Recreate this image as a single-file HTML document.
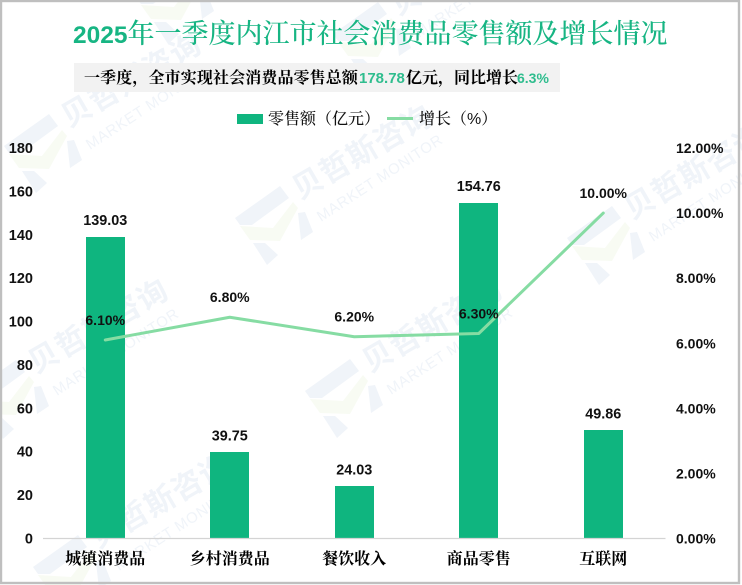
<!DOCTYPE html>
<html lang="zh">
<head>
<meta charset="utf-8">
<title>2025年一季度内江市社会消费品零售额及增长情况</title>
<style>
html,body{margin:0;padding:0;background:#fff;}
body{width:742px;height:585px;overflow:hidden;position:relative;}
svg{position:absolute;left:0;top:0;display:block;}
text{font-family:"Liberation Sans","Noto Sans CJK SC",sans-serif;}
.cjk{font-family:"Liberation Sans","Noto Serif CJK SC",serif;}
</style>
</head>
<body>
<svg id="chart" width="742" height="585" viewBox="0 0 742 585" xmlns="http://www.w3.org/2000/svg">
  <defs>
    <g id="wm-unit">
      <polygon fill="#f0f4f9" points="-39,-8 6,-40 15,-28 -22,-1 -34,-1"/>
      <polygon fill="#f8fbf3" points="-34,0 -1,2 19,-24 24,-18 6,15 -24,14"/>
      <polygon fill="#f0f4f9" points="24,-13 31,-14 39,6 27,14"/>
      <polygon fill="#f0f4f9" points="-21,17 -9,17 4,29 -7,39"/>
      <text transform="translate(26,-26) rotate(-30)" x="0" y="0" font-size="30" font-weight="700" fill="#f0f4f9" textLength="155">贝哲斯咨询</text>
      <text transform="translate(47,-4) rotate(-33)" x="0" y="0" font-size="15" fill="#f0f4f9" textLength="146">MARKET MONITOR</text>
    </g>
  </defs>
  <rect x="0" y="0" width="742" height="585" fill="#ffffff"/>
  <g id="watermarks">
    <use href="#wm-unit" x="43" y="154"/>
    <use href="#wm-unit" x="274" y="226"/>
    <use href="#wm-unit" x="606" y="246"/>
    <use href="#wm-unit" x="344" y="399"/>
    <use href="#wm-unit" x="10" y="400"/>
    <use href="#wm-unit" x="72" y="575"/>
    <use href="#wm-unit" x="372" y="42"/>
    <use href="#wm-unit" x="175" y="5"/>
  </g>
  <rect x="1" y="1" width="738" height="582" fill="none" stroke="#bfbfbf" stroke-width="2.4"/>
  <text x="73" y="43" class="cjk" font-size="27" fill="#17b583"><tspan font-weight="700" font-size="24.5">2025</tspan><tspan font-weight="500">年一季度内江市社会消费品零售额及增长情况</tspan></text>
  <rect x="74" y="63" width="486" height="29" fill="#f2f2f2"/>
  <text x="84" y="83" class="cjk" font-size="16" font-weight="700" fill="#000000" letter-spacing="0.12">一季度，全市实现社会消费品零售总额<tspan x="359" font-weight="700" font-size="15" letter-spacing="0" fill="#2fbd8e">178.78</tspan><tspan x="406" letter-spacing="0">亿元，同比增长</tspan><tspan x="517" font-weight="700" font-size="14" letter-spacing="0" fill="#2fbd8e">6.3%</tspan></text>
  <g>
    <rect x="237" y="114" width="26" height="10" fill="#0fb57f"/>
    <text x="268" y="124" class="cjk" font-size="16" font-weight="500" fill="#111111">零售额（亿元）</text>
    <line x1="387" y1="118.5" x2="413" y2="118.5" stroke="#86dca3" stroke-width="3"/>
    <text x="419" y="124" class="cjk" font-size="16" font-weight="500" fill="#111111">增长（%）</text>
  </g>
  <g id="plot"></g>
</svg>
<script>
const categories = ['城镇消费品', '乡村消费品', '餐饮收入', '商品零售', '互联网'];
const retailValues = [139.03, 39.75, 24.03, 154.76, 49.86];
const growthValues = [6.1, 6.8, 6.2, 6.3, 10.0];
const leftTicks = [0, 20, 40, 60, 80, 100, 120, 140, 160, 180];
const rightTicks = [0, 2, 4, 6, 8, 10, 12];

const NS = 'http://www.w3.org/2000/svg';
const plot = document.getElementById('plot');
const plotLeft = 43, plotRight = 665.5, plotTop = 148, plotBottom = 538.5;
const barWidth = 39;

function xCenter(i) {
  return plotLeft + (plotRight - plotLeft) * (i + 0.5) / categories.length;
}
function yLeft(v) {
  return plotBottom - (v / 180) * (plotBottom - plotTop);
}
function yRight(v) {
  return plotBottom - (v / 12) * (plotBottom - plotTop);
}
function make(tag, attrs, content) {
  const el = document.createElementNS(NS, tag);
  Object.keys(attrs).forEach(function (k) { el.setAttribute(k, attrs[k]); });
  if (content !== undefined) el.textContent = content;
  plot.appendChild(el);
  return el;
}

leftTicks.forEach(function (t) {
  const el = make('text', { x: 33, y: yLeft(t) + 5, 'text-anchor': 'end', 'font-size': 14.5, 'font-weight': 700, fill: '#111' }, String(t));
  
  
});
rightTicks.forEach(function (t) {
  const el = make('text', { x: 676, y: yRight(t) + 5, 'font-size': 14, 'font-weight': 700, fill: '#111' }, t.toFixed(2) + '%');
  
  
});

retailValues.forEach(function (v, i) {
  const top = Math.round(yLeft(v));
  const bar = make('rect', { x: Math.round(xCenter(i) - barWidth / 2), y: top, width: barWidth, height: plotBottom - top, fill: '#0fb57f' });
  
  
});

const axisLine = make('line', { x1: plotLeft, y1: plotBottom, x2: plotRight, y2: plotBottom, stroke: '#d4d4d4', 'stroke-width': 1.2 });



categories.forEach(function (c, i) {
  const el = make('text', { x: xCenter(i), y: 564, 'text-anchor': 'middle', 'font-size': 16, 'font-weight': 700, fill: '#000', class: 'cjk' }, c);
  
  
});

const linePoints = growthValues.map(function (v, i) { return xCenter(i) + ',' + yRight(v); }).join(' ');
const growthLine = make('polyline', { points: linePoints, fill: 'none', stroke: '#86dca3', 'stroke-width': 3, 'stroke-linejoin': 'round', 'stroke-linecap': 'round' });



retailValues.forEach(function (v, i) {
  const el = make('text', { x: xCenter(i), y: yLeft(v) - 12, 'text-anchor': 'middle', 'font-size': 14.4, 'font-weight': 700, fill: '#111' }, v.toFixed(2));
  
  
});
growthValues.forEach(function (v, i) {
  const el = make('text', { x: xCenter(i), y: yRight(v) - 15, 'text-anchor': 'middle', 'font-size': 14, 'font-weight': 700, fill: '#111' }, v.toFixed(2) + '%');
  
  
});
</script>
</body>
</html>
